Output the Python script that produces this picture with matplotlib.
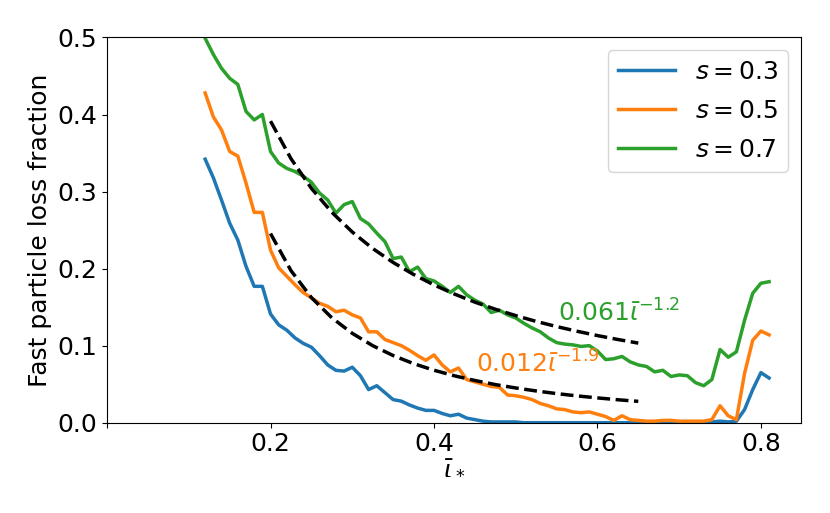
import numpy as np
import matplotlib
matplotlib.use("Agg")
import matplotlib.pyplot as plt

# l_* grid, 0.12 .. 0.81 in steps of 0.01
l_star = np.linspace(0.12, 0.81, 70)

loss_s03 = [0.342, 0.318, 0.289, 0.259, 0.237, 0.203, 0.177, 0.177, 0.141, 0.127,
            0.120, 0.110, 0.103, 0.098, 0.087, 0.075, 0.068, 0.067, 0.072, 0.061,
            0.043, 0.048, 0.039, 0.030, 0.028, 0.023, 0.019, 0.016, 0.016, 0.012,
            0.009, 0.011, 0.006, 0.004, 0.002, 0.001, 0.001, 0.001, 0.001, 0.000,
            0.000, 0.000, 0.000, 0.000, 0.000, 0.000, 0.000, 0.000, 0.000, 0.000,
            0.000, 0.000, 0.000, 0.000, 0.000, 0.000, 0.000, 0.000, 0.000, 0.000,
            0.000, 0.001, 0.001, 0.002, 0.001, 0.002, 0.017, 0.043, 0.065, 0.058]

loss_s05 = [0.428, 0.397, 0.380, 0.352, 0.346, 0.311, 0.273, 0.273, 0.224, 0.201,
            0.190, 0.179, 0.169, 0.162, 0.155, 0.151, 0.144, 0.146, 0.140, 0.136,
            0.118, 0.118, 0.108, 0.104, 0.100, 0.094, 0.087, 0.081, 0.088, 0.075,
            0.066, 0.071, 0.056, 0.053, 0.050, 0.047, 0.046, 0.036, 0.035, 0.033,
            0.030, 0.025, 0.022, 0.018, 0.017, 0.014, 0.013, 0.014, 0.011, 0.008,
            0.003, 0.009, 0.004, 0.003, 0.002, 0.002, 0.003, 0.003, 0.002, 0.002,
            0.002, 0.002, 0.004, 0.022, 0.009, 0.004, 0.064, 0.107, 0.119, 0.114]

loss_s07 = [0.499, 0.478, 0.460, 0.447, 0.439, 0.404, 0.393, 0.400, 0.352, 0.337,
            0.330, 0.326, 0.320, 0.312, 0.298, 0.289, 0.272, 0.283, 0.287, 0.265,
            0.258, 0.246, 0.235, 0.213, 0.215, 0.196, 0.202, 0.187, 0.184, 0.177,
            0.169, 0.177, 0.166, 0.159, 0.154, 0.143, 0.146, 0.140, 0.136, 0.129,
            0.123, 0.118, 0.110, 0.104, 0.102, 0.101, 0.099, 0.100, 0.093, 0.082,
            0.083, 0.086, 0.079, 0.075, 0.073, 0.066, 0.068, 0.060, 0.062, 0.061,
            0.052, 0.048, 0.056, 0.095, 0.085, 0.092, 0.133, 0.168, 0.181, 0.183]

# power-law fit curves
fit_x = [0.200, 0.225, 0.250, 0.275, 0.300, 0.325, 0.350, 0.375, 0.400, 0.425,
         0.450, 0.475, 0.500, 0.525, 0.550, 0.575, 0.600, 0.625, 0.650]
fit_s05 = [0.2455, 0.1974, 0.1624, 0.1362, 0.1160, 0.1000, 0.0872, 0.0767, 0.0681, 0.0609,
           0.0548, 0.0495, 0.0451, 0.0412, 0.0378, 0.0348, 0.0322, 0.0298, 0.0277]
fit_s07 = [0.3914, 0.3427, 0.3042, 0.2731, 0.2475, 0.2261, 0.2080, 0.1924, 0.1788, 0.1670,
           0.1565, 0.1473, 0.1390, 0.1315, 0.1248, 0.1187, 0.1131, 0.1080, 0.1033]

fig = plt.figure(figsize=(8.3, 5.13), dpi=100)
ax = fig.add_axes([0.129, 0.176, 0.836, 0.751])

ax.plot(l_star, loss_s03, color='tab:blue', lw=2.5, label='$s=0.3$')
ax.plot(l_star, loss_s05, color='tab:orange', lw=2.5, label='$s=0.5$')
ax.plot(l_star, loss_s07, color='tab:green', lw=2.5, label='$s=0.7$')
ax.plot(fit_x, fit_s07, 'k--', lw=2.5)
ax.plot(fit_x, fit_s05, 'k--', lw=2.5)

ax.text(0.552, 0.131, r'$0.061\bar{\iota}^{-1.2}$', color='tab:green', fontsize=18, va='baseline')
ax.text(0.452, 0.065, r'$0.012\bar{\iota}^{-1.9}$', color='tab:orange', fontsize=18, va='baseline')

ax.set_xlim(0, 0.849)
ax.set_ylim(0, 0.5)
ax.set_xticks([0.0, 0.2, 0.4, 0.6, 0.8])
ax.set_xticklabels(['', '0.2', '0.4', '0.6', '0.8'])
ax.tick_params(labelsize=18)
ax.set_xlabel(r'$\bar{\iota}_*$', fontsize=18, labelpad=-1)
ax.set_ylabel('Fast particle loss fraction', fontsize=18)
ax.legend(fontsize=18, loc='upper right', handlelength=2.3, labelspacing=0.6)

fig.savefig('out.png', dpi=100)
